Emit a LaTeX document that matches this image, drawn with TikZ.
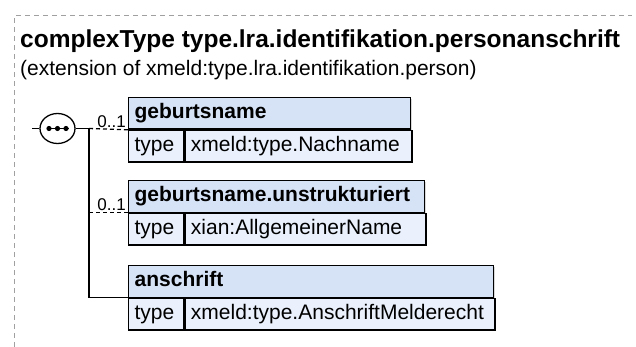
\documentclass[tikz,border=0pt]{standalone}
\usepackage{fontspec}
\setmainfont{Liberation Sans}
\usepackage{tikz}
\usetikzlibrary{shapes.geometric,shadows}
\definecolor{headfill}{RGB}{214,227,247}
\definecolor{rowfill}{RGB}{234,241,252}
\definecolor{framegray}{RGB}{160,160,160}

\begin{document}
\begin{tikzpicture}[x=1pt,y=-1pt,
  cell/.style={draw,line width=1.3pt,anchor=north west,inner xsep=6pt,inner ysep=0pt,
    minimum height=31.5pt,text height=15pt,text depth=4.4pt,align=left,
    drop shadow={shadow xshift=1.2pt,shadow yshift=-1.2pt,fill=gray,opacity=.3}},
  headcell/.style={cell,fill=headfill,font=\fontsize{21}{25}\selectfont\bfseries},
  typecell/.style={cell,fill=rowfill,font=\fontsize{21}{25}\selectfont},
  mult/.style={anchor=south east,inner xsep=2pt,inner ysep=1.5pt,font=\fontsize{17}{20}\selectfont},
  conn/.style={line width=1.3pt},
  optional/.style={dash pattern=on 4pt off 3pt},
  seqsym/.style={draw,ellipse,line width=1.3pt,fill=white,minimum width=35pt,minimum height=30pt,inner sep=0pt}]
  \useasboundingbox (0,0) rectangle (636,347);
  \draw[framegray,line width=1pt,dash pattern=on 5pt off 4pt] (14,347) -- (14,16) -- (632,16);
  \node[anchor=base west,inner sep=0pt,font=\fontsize{24.5}{29}\selectfont\bfseries] (title) at (20,48)
    {complexType type.lra.identifikation.personanschrift};
  \node[anchor=base west,inner sep=0pt,font=\fontsize{21}{25}\selectfont] (subtitle) at (20,76)
    {(extension of xmeld:type.lra.identifikation.person)};

  \node[headcell,text width=270pt] (name1) at (128,97) {geburtsname};
  \node[typecell,text width=43pt] (key1) at (name1.south west) {type};
  \node[typecell,text width=215pt] (val1) at (key1.north east) {xmeld:type.Nachname};

  \node[headcell,text width=284pt] (name2) at (128,180) {geburtsname.unstrukturiert};
  \node[typecell,text width=43pt] (key2) at (name2.south west) {type};
  \node[typecell,text width=229pt] (val2) at (key2.north east) {xian:AllgemeinerName};

  \node[headcell,text width=353pt] (name3) at (128,265) {anschrift};
  \node[typecell,text width=43pt] (key3) at (name3.south west) {type};
  \node[typecell,text width=298pt] (val3) at (key3.north east) {xmeld:type.AnschriftMelderecht};

  \coordinate (entry) at (32,128.5);
  \coordinate (fork) at (89,128.5);
  \node[seqsym] (seq) at (57.5,128.5) {};
  \draw[conn] ([xshift=-11pt]seq.center) -- ([xshift=11pt]seq.center);
  \foreach \dx in {-8.5,0,8.5}
    \fill ([xshift=\dx pt]seq.center) circle (2.6);
  \draw[conn] (entry) -- (seq.west);
  \draw[conn] (seq.east) -- (fork);
  \draw[conn] (fork) |- (name3.south west);
  \draw[conn,optional] (fork) -- (name1.south west);
  \draw[conn,optional] (fork |- name2.south west) -- (name2.south west);
  \node[mult] (mult1) at (name1.south west) {0..1};
  \node[mult] (mult2) at (name2.south west) {0..1};
\end{tikzpicture}
\end{document}
